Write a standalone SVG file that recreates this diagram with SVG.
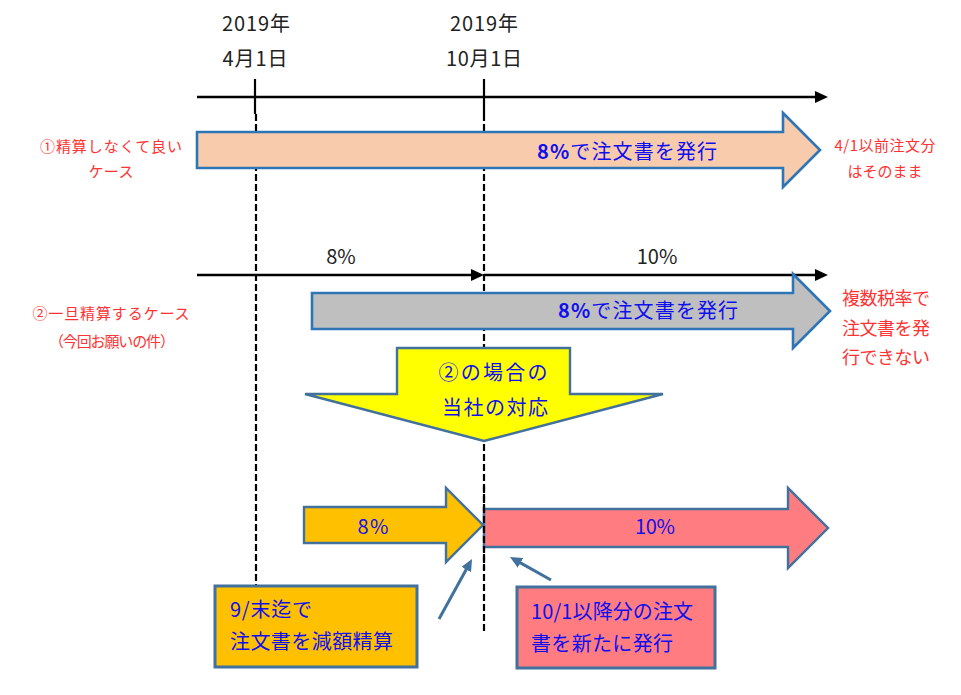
<svg xmlns="http://www.w3.org/2000/svg" width="961" height="695" viewBox="0 0 961 695">
<style>
text{font-family:"Noto Sans CJK JP","Noto Sans",sans-serif;}
.blk{fill:#222;font-size:20px}
.red{fill:#FF3333;font-size:15px}
.red2{fill:#FF3333;font-size:18px}
.blu{fill:#1010EE;font-size:20px}
.axis{stroke:#000;stroke-width:2.5;fill:none}
.solid{stroke:#000;stroke-width:2.2;fill:none}
.dash{stroke:#000;stroke-width:2.2;stroke-dasharray:7 3;fill:none}
.bigA{stroke:#2E75B6;stroke-width:2.6;stroke-linejoin:miter}
.shp{stroke:#41719C;stroke-width:2.4;stroke-linejoin:miter}
.box{stroke:#41719C;stroke-width:3}
.ptr{stroke:#41719C;stroke-width:3;fill:none}
</style>
<defs>
<marker id="ah" markerUnits="userSpaceOnUse" markerWidth="14" markerHeight="12" refX="2" refY="6" orient="auto">
<path d="M0,0 L13,6 L0,12 Z" fill="#000"/>
</marker>
<marker id="ph" markerUnits="userSpaceOnUse" markerWidth="13" markerHeight="11" refX="2" refY="5.5" orient="auto">
<path d="M0,0 L12,5.5 L0,11 Z" fill="#41719C"/>
</marker>
</defs>
<rect width="961" height="695" fill="#fff"/>

<g id="dates">
<text class="blk" x="256" y="31" text-anchor="middle" textLength="68">2019年</text>
<text class="blk" x="255" y="66" text-anchor="middle" textLength="65">4月1日</text>
<text class="blk" x="484" y="31" text-anchor="middle" textLength="68">2019年</text>
<text class="blk" x="484" y="66" text-anchor="middle" textLength="76">10月1日</text>
</g>

<g id="connectors">
<line class="axis" x1="197" y1="97" x2="817" y2="97" marker-end="url(#ah)"/>
<line class="axis" x1="197" y1="275" x2="473" y2="275" marker-end="url(#ah)"/>
<line class="axis" x1="484" y1="275" x2="817" y2="275" marker-end="url(#ah)"/>
<line class="solid" x1="255" y1="79" x2="255" y2="114"/>
<line class="dash" x1="256" y1="114" x2="256" y2="585"/>
<line class="solid" x1="484" y1="79" x2="484" y2="114"/>
<line class="dash" x1="484" y1="114" x2="484" y2="632"/>
</g>

<g id="case1-label">
<text class="red" x="111" y="152" text-anchor="middle" textLength="142">①精算しなくて良い</text>
<text class="red" x="111" y="177" text-anchor="middle" textLength="45">ケース</text>
</g>

<g id="arrow-case1">
<path class="bigA" fill="#F8CBAD" d="M197,132 H783 V113 L820,150 L783,187 V168 H197 Z"/>
<text class="blu" x="627" y="159" text-anchor="middle" textLength="180" font-size="21"><tspan font-weight="bold">8%</tspan>で注文書を発行</text>
</g>

<g id="case1-note">
<text class="red" x="885" y="151" text-anchor="middle" textLength="101">4/1以前注文分</text>
<text class="red" x="885" y="177" text-anchor="middle" textLength="75">はそのまま</text>
</g>

<g id="rates">
<text class="blk" x="341" y="264" text-anchor="middle">8%</text>
<text class="blk" x="657" y="264" text-anchor="middle">10%</text>
</g>

<g id="case2-label">
<text class="red" x="111" y="319" text-anchor="middle" textLength="157">②一旦精算するケース</text>
<text class="red" x="112" y="347" text-anchor="middle" textLength="126">（今回お願いの件）</text>
</g>

<g id="arrow-case2">
<path class="bigA" fill="#BFBFBF" d="M312,293 H793 V274 L830,311 L793,348 V329 H312 Z"/>
<text class="blu" x="648" y="318" text-anchor="middle" textLength="180" font-size="21"><tspan font-weight="bold">8%</tspan>で注文書を発行</text>
</g>

<g id="case2-note">
<text class="red2" x="886" y="305" text-anchor="middle" textLength="88">複数税率で</text>
<text class="red2" x="886" y="335" text-anchor="middle" textLength="88">注文書を発</text>
<text class="red2" x="886" y="364" text-anchor="middle" textLength="88">行できない</text>
</g>

<g id="response">
<path class="shp" fill="#FFFF00" d="M397,348 H570 V394 H663 L484,441 L305,394 H397 Z"/>
<text class="blu" x="493" y="380" text-anchor="middle" textLength="109" font-size="21">②の場合の</text>
<text class="blu" x="495" y="415" text-anchor="middle" textLength="106" font-size="21">当社の対応</text>
</g>

<g id="arrow-8">
<path class="shp" fill="#FFC000" d="M304,507 H446 V488 L483,525 L446,562 V543 H304 Z"/>
<text class="blu" x="373" y="534" text-anchor="middle" textLength="31">8%</text>
</g>

<g id="arrow-10">
<path class="shp" fill="#FF7C80" d="M484,509 H788 V488 L828,528 L788,568 V547 H484 Z"/>
<text class="blu" x="655" y="534" text-anchor="middle" textLength="40">10%</text>
</g>

<g id="junction">
<line class="dash" x1="484" y1="486" x2="484" y2="570"/>
</g>

<g id="pointers">
<line class="ptr" x1="439" y1="619" x2="467.2" y2="567.8" marker-end="url(#ph)"/>
<line class="ptr" x1="551" y1="580" x2="518.7" y2="561.9" marker-end="url(#ph)"/>
</g>

<g id="box-reduce">
<rect class="box" x="215" y="586" width="202" height="81" fill="#FFC000"/>
<text class="blu" x="230" y="617" textLength="82">9/末迄で</text>
<text class="blu" x="230" y="649" textLength="163">注文書を減額精算</text>
</g>

<g id="box-new">
<rect class="box" x="517" y="587" width="198" height="81" fill="#FF7C80"/>
<text class="blu" x="531" y="619" textLength="162">10/1以降分の注文</text>
<text class="blu" x="531" y="651" textLength="142">書を新たに発行</text>
</g>
</svg>
